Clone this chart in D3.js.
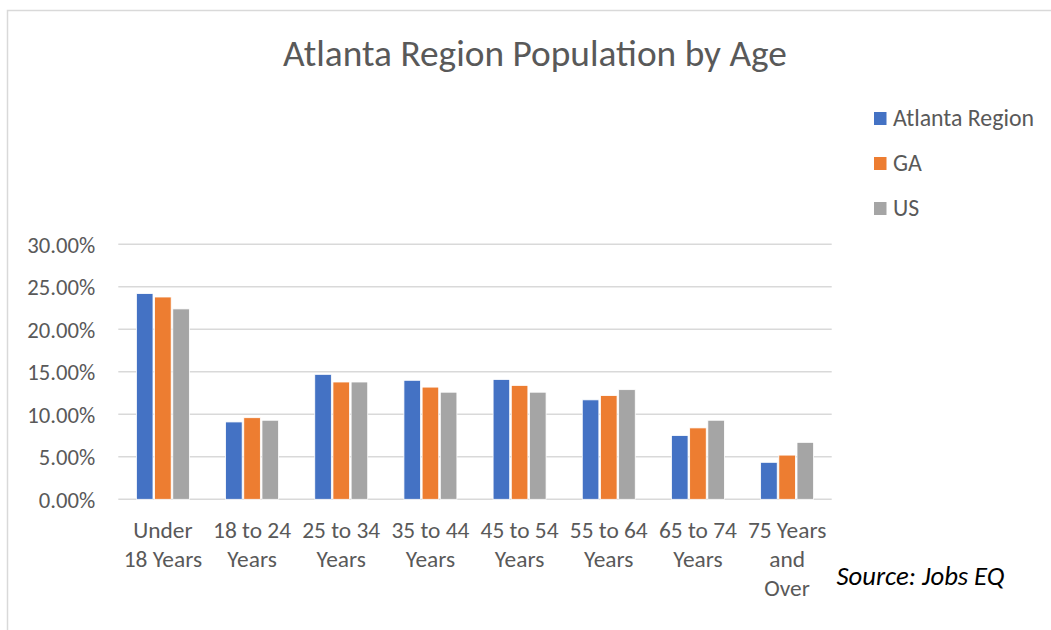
<!DOCTYPE html>
<html><head><meta charset="utf-8">
<script src="https://cdn.jsdelivr.net/npm/d3@7"></script>
<style>
html,body{margin:0;padding:0;background:#fff;}
svg text{font-family:Calibri,Carlito,Lato,sans-serif;}
</style></head>
<body>
<svg id="chart" width="1051" height="630"></svg>
<script>
const categories = [["Under","18 Years"],["18 to 24","Years"],["25 to 34","Years"],["35 to 44","Years"],["45 to 54","Years"],["55 to 64","Years"],["65 to 74","Years"],["75 Years","and","Over"]];
const seriesNames = ["Atlanta Region","GA","US"];
const atlanta = [24.2, 9.1, 14.7, 14.0, 14.1, 11.7, 7.5, 4.35];
const ga      = [23.8, 9.6, 13.8, 13.2, 13.4, 12.2, 8.4, 5.2];
const us      = [22.4, 9.3, 13.8, 12.6, 12.6, 12.9, 9.3, 6.7];
const yTicks = [0, 5, 10, 15, 20, 25, 30];
const colors = ["#4472C4", "#ED7D31", "#A5A5A5"];

(function () {
const values = [atlanta, ga, us];
const svg = d3.select("#chart");

// font size that makes a sample string reach a target width
function fitSize(sample, target, base, style) {
  const t = svg.append("text").style("font-size", base + "px").style("font-style", style || "normal").text(sample);
  const w = t.node().getComputedTextLength();
  t.remove();
  return base * target / w;
}
const titleSize = fitSize("Atlanta Region Population by Age", 504, 30);
const ySize = fitSize("30.00%", 68, 18);
const xSize = fitSize("18 to 24", 78, 18);
const legSize = fitSize("Atlanta Region", 141, 18);
const srcSize = fitSize("Source: Jobs EQ", 168, 18, "italic");

// outer border
svg.append("rect").attr("x", 7.5).attr("y", 10.5).attr("width", 1060).attr("height", 640)
  .attr("fill", "none").attr("stroke", "#D9D9D9").attr("stroke-width", 1.5);

const pLeft = 118.3, pRight = 831.7, pTop = 244.3, pBottom = 499.3;
const catKeys = categories.map((c, i) => i);
const x = d3.scaleBand().domain(catKeys).range([pLeft, pRight]).paddingInner(0.388).paddingOuter(0.194);
const xs = d3.scaleBand().domain(seriesNames).range([0, x.bandwidth()]);
const y = d3.scaleLinear().domain([0, 30]).range([pBottom, pTop]);

// gridlines
svg.append("g").selectAll("line").data(yTicks).join("line")
  .attr("x1", pLeft).attr("x2", pRight)
  .attr("y1", d => y(d)).attr("y2", d => y(d))
  .attr("stroke", "#D9D9D9").attr("stroke-width", 1.5);

// y axis labels
const yAxis = d3.axisLeft(y).tickValues(yTicks).tickFormat(d => d.toFixed(2) + "%").tickSize(0).tickPadding(23);
const yg = svg.append("g").attr("transform", `translate(${pLeft},0)`).call(yAxis);
yg.select(".domain").remove();
yg.selectAll("text").attr("fill", "#595959").attr("dy", "0.34em")
  .style("font-size", ySize + "px").style("font-family", "Calibri,Carlito,Lato,sans-serif");

// bars
const groups = svg.append("g").selectAll("g").data(catKeys).join("g")
  .attr("transform", d => `translate(${x(d)},0)`);
groups.selectAll("rect").data(i => seriesNames.map((s, k) => ({s, k, v: values[k][i]}))).join("rect")
  .attr("x", d => xs(d.s) + 0.8)
  .attr("width", xs.bandwidth() - 1.6)
  .attr("y", d => y(d.v))
  .attr("height", d => y(0) - y(d.v))
  .attr("fill", d => colors[d.k])
  .attr("stroke", "#fff").attr("stroke-width", 0.8);

// x axis labels
const xg = svg.append("g");
xg.selectAll("text").data(catKeys).join("text")
  .attr("x", d => x(d) + x.bandwidth() / 2)
  .attr("y", 537.5)
  .attr("text-anchor", "middle")
  .attr("fill", "#595959")
  .style("font-size", xSize + "px")
  .each(function(d) {
    const t = d3.select(this);
    categories[d].forEach((line, j) => {
      t.append("tspan").attr("x", x(d) + x.bandwidth() / 2).attr("dy", j === 0 ? 0 : 29.3).text(line);
    });
  });

// title
svg.append("text").attr("x", 535).attr("y", 66).attr("text-anchor", "middle")
  .attr("fill", "#595959").style("font-size", titleSize + "px")
  .text("Atlanta Region Population by Age");

// legend
const lg = svg.append("g").selectAll("g").data(seriesNames).join("g")
  .attr("transform", (d, i) => `translate(874,${118.5 + i * 45})`);
lg.append("rect").attr("x", 0).attr("y", -6.5).attr("width", 12.5).attr("height", 13).attr("fill", (d, i) => colors[i]);
lg.append("text").attr("x", 19).attr("y", 7.5).attr("fill", "#595959").style("font-size", legSize + "px").text(d => d);

// source
svg.append("text").attr("x", 836.5).attr("y", 585).attr("fill", "#000").style("font-size", srcSize + "px")
  .style("font-style", "italic").text("Source: Jobs EQ");
})();
</script>
</body></html>
